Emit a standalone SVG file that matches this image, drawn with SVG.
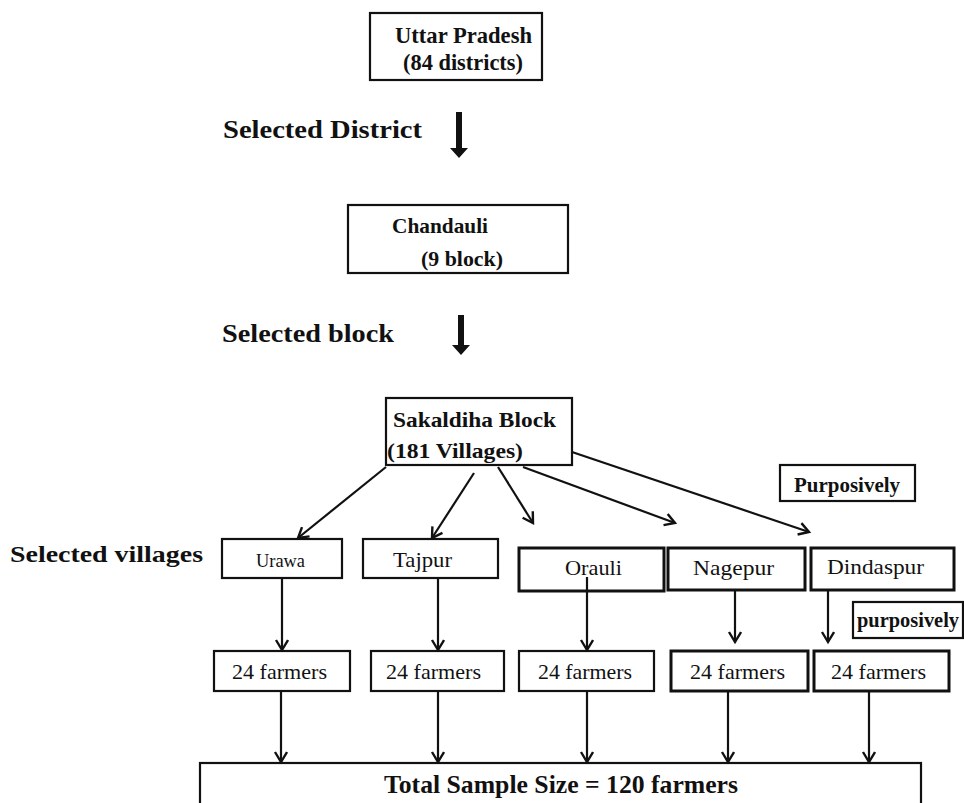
<svg xmlns="http://www.w3.org/2000/svg" width="964" height="803" viewBox="0 0 964 803">
<style>
text{font-family:"Liberation Serif","Times New Roman",serif;fill:#111}
.b{font-weight:bold}
.box{fill:#fff;stroke:#111;stroke-width:2.2}
.thk{stroke-width:3}
.con{stroke:#111;stroke-width:2.2;fill:none}
</style>
<defs>
<marker id="ah" markerUnits="userSpaceOnUse" markerWidth="16" markerHeight="16" refX="11" refY="7" orient="auto">
<path d="M1,1 L11,7 L1,13" fill="none" stroke="#111" stroke-width="2.4"/>
</marker>
</defs>
<rect width="964" height="803" fill="#fff"/>

<g id="n-up">
<rect class="box" x="370" y="13" width="172" height="67"/>
<text class="b" x="395" y="43" font-size="23" textLength="137" lengthAdjust="spacingAndGlyphs">Uttar  Pradesh</text>
<text class="b" x="403" y="70" font-size="23" textLength="120" lengthAdjust="spacingAndGlyphs">(84 districts)</text>
</g>

<g id="lbl-district">
<text class="b" x="223" y="138" font-size="25" textLength="199" lengthAdjust="spacingAndGlyphs">Selected  District</text>
</g>

<g id="n-chandauli">
<rect class="box" x="348" y="205" width="220" height="68"/>
<text class="b" x="392" y="233" font-size="22" textLength="96" lengthAdjust="spacingAndGlyphs">Chandauli</text>
<text class="b" x="421" y="266" font-size="22" textLength="82" lengthAdjust="spacingAndGlyphs">(9 block)</text>
</g>

<g id="lbl-block">
<text class="b" x="222" y="342" font-size="25" textLength="172" lengthAdjust="spacingAndGlyphs">Selected block</text>
</g>

<g id="n-sakaldiha">
<rect class="box" x="386" y="398" width="186" height="67"/>
<text class="b" x="393" y="427" font-size="22" textLength="163" lengthAdjust="spacingAndGlyphs">Sakaldiha  Block</text>
<text class="b" x="387" y="458" font-size="22" textLength="136" lengthAdjust="spacingAndGlyphs">(181 Villages)</text>
</g>

<g id="lbl-purposively">
<rect class="box" x="780" y="465" width="135" height="36"/>
<text class="b" x="794" y="492" font-size="20" textLength="106" lengthAdjust="spacingAndGlyphs">Purposively</text>
</g>

<g id="lbl-villages">
<text class="b" x="10" y="562" font-size="24" textLength="193" lengthAdjust="spacingAndGlyphs">Selected villages</text>
</g>

<g id="n-urawa">
<rect class="box" x="222" y="539" width="120" height="39"/>
<text x="256" y="567" font-size="19" textLength="49" lengthAdjust="spacingAndGlyphs">Urawa</text>
</g>
<g id="n-tajpur">
<rect class="box" x="363" y="539" width="135" height="39"/>
<text x="393" y="567" font-size="22" textLength="59" lengthAdjust="spacingAndGlyphs">Tajpur</text>
</g>
<g id="n-orauli">
<rect class="box thk" x="519" y="548" width="145" height="43"/>
<text x="565" y="575" font-size="22" textLength="57" lengthAdjust="spacingAndGlyphs">Orauli</text>
</g>
<g id="n-nagepur">
<rect class="box thk" x="668" y="548" width="137" height="42"/>
<text x="693" y="575" font-size="22" textLength="81" lengthAdjust="spacingAndGlyphs">Nagepur</text>
</g>
<g id="n-dindaspur">
<rect class="box thk" x="811" y="548" width="143" height="42"/>
<text x="827" y="574" font-size="22" textLength="97" lengthAdjust="spacingAndGlyphs">Dindaspur</text>
</g>

<g id="lbl-purposively2">
<rect class="box" x="853" y="602" width="110" height="36"/>
<text class="b" x="857" y="627" font-size="20" textLength="102" lengthAdjust="spacingAndGlyphs">purposively</text>
</g>

<g id="n-f1">
<rect class="box" x="214" y="651" width="136" height="40"/>
<text x="232" y="679" font-size="22" textLength="95" lengthAdjust="spacingAndGlyphs">24 farmers</text>
</g>
<g id="n-f2">
<rect class="box" x="371" y="651" width="133" height="40"/>
<text x="386" y="679" font-size="22" textLength="95" lengthAdjust="spacingAndGlyphs">24 farmers</text>
</g>
<g id="n-f3">
<rect class="box" x="519" y="651" width="135" height="40"/>
<text x="538" y="679" font-size="22" textLength="94" lengthAdjust="spacingAndGlyphs">24 farmers</text>
</g>
<g id="n-f4">
<rect class="box thk" x="671" y="651" width="137" height="40"/>
<text x="690" y="679" font-size="22" textLength="95" lengthAdjust="spacingAndGlyphs">24 farmers</text>
</g>
<g id="n-f5">
<rect class="box thk" x="814" y="651" width="135" height="40"/>
<text x="831" y="679" font-size="22" textLength="95" lengthAdjust="spacingAndGlyphs">24 farmers</text>
</g>

<g id="n-total">
<rect class="box" x="200" y="763" width="721" height="50"/>
<text class="b" x="384" y="793" font-size="25" textLength="354" lengthAdjust="spacingAndGlyphs">Total Sample  Size = 120 farmers</text>
</g>

<g id="connectors">
<path d="M456,112 H462 V148 H468 L459,158 L450,148 H456 Z" fill="#111"/>
<path d="M458,315 H464 V345 H470 L461,355 L452,345 H458 Z" fill="#111"/>
<line class="con" x1="386" y1="467" x2="298" y2="538" marker-end="url(#ah)"/>
<line class="con" x1="474" y1="473" x2="432" y2="538" marker-end="url(#ah)"/>
<line class="con" x1="498" y1="467" x2="533" y2="523" marker-end="url(#ah)"/>
<line class="con" x1="523" y1="467" x2="675" y2="523" marker-end="url(#ah)"/>
<line class="con" x1="572" y1="452" x2="809" y2="532" marker-end="url(#ah)"/>
<line class="con" x1="282" y1="578" x2="282" y2="650" marker-end="url(#ah)"/>
<line class="con" x1="438" y1="578" x2="438" y2="650" marker-end="url(#ah)"/>
<line class="con" x1="587" y1="577" x2="587" y2="650" marker-end="url(#ah)"/>
<line class="con" x1="735" y1="591" x2="735" y2="642" marker-end="url(#ah)"/>
<line class="con" x1="828" y1="591" x2="828" y2="642" marker-end="url(#ah)"/>
<line class="con" x1="281" y1="691" x2="281" y2="762" marker-end="url(#ah)"/>
<line class="con" x1="438" y1="691" x2="438" y2="762" marker-end="url(#ah)"/>
<line class="con" x1="587" y1="691" x2="587" y2="762" marker-end="url(#ah)"/>
<line class="con" x1="728" y1="691" x2="728" y2="762" marker-end="url(#ah)"/>
<line class="con" x1="869" y1="691" x2="869" y2="762" marker-end="url(#ah)"/>
</g>
</svg>
